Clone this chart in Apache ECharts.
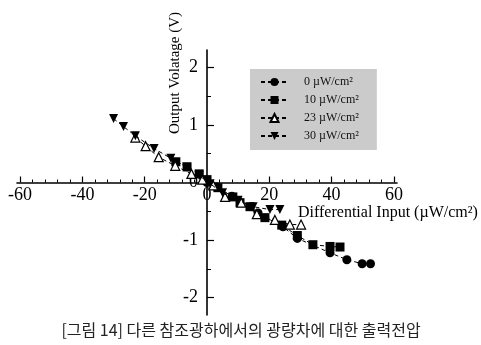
<!DOCTYPE html>
<html>
<head>
<meta charset="utf-8">
<script src="https://cdn.jsdelivr.net/npm/echarts@6/dist/echarts.min.js"></script>
<style>
html,body{margin:0;padding:0;background:#fff;}
#c{width:481px;height:345px;}
</style>
</head>
<body>
<div id="c"></div>
<script>
// ---- data ----
var seriesNames = ['0 µW/cm²', '10 µW/cm²', '23 µW/cm²', '30 µW/cm²'];
var s0x = [0, 3.2, 8, 16.4, 24.4, 29, 39.5, 44.9, 49.8, 52.5];
var s0y = [0, -0.08, -0.24, -0.53, -0.77, -0.97, -1.22, -1.34, -1.41, -1.41];
var s10x = [-10, -6.4, -2.5, 0, 3.5, 8.3, 10.6, 13.8, 18.6, 24, 29, 34, 39.5, 42.7];
var s10y = [0.36, 0.27, 0.15, 0.05, -0.09, -0.25, -0.35, -0.42, -0.61, -0.74, -0.92, -1.08, -1.11, -1.12];
var s23x = [-23, -19.7, -15.5, -10.2, -5, -1.5, 2, 5.8, 11, 16, 21.8, 26.6, 30.2];
var s23y = [0.78, 0.63, 0.44, 0.29, 0.15, 0.05, -0.05, -0.25, -0.35, -0.55, -0.65, -0.73, -0.73];
var s30x = [-30, -26.8, -23, -17, -11.6, -6.5, -2.5, 1, 5, 10, 14.8, 20.2, 23.4];
var s30y = [1.11, 0.97, 0.81, 0.59, 0.42, 0.27, 0.12, -0.02, -0.18, -0.31, -0.42, -0.47, -0.47];
var xMajorTicks = [-60, -40, -20, 0, 20, 40, 60];
var xMinorTicks = [-56, -52, -48, -44, -36, -32, -28, -24, -16, -12, -8, -4, 4, 8, 12, 16, 24, 28, 32, 36, 44, 48, 52, 56];
var yMajorTicks = [-2, -1, 0, 1, 2];
var yMinorTicks = [-1.5, -0.5, 0.5, 1.5];
var xRange = [-61, 61];
var yRange = [-2.3, 2.3];
var xTitle = 'Differential Input (µW/cm²)';
var yTitle = 'Output Volatage (V)';
var caption = '[그림 14] 다른 참조광하에서의 광량차에 대한 출력전압';

function zip(xs, ys) { return xs.map(function (x, i) { return [x, ys[i]]; }); }

var serif = 'Liberation Serif';
var chart = echarts.init(document.getElementById('c'), null, {renderer: 'canvas'});

// grid box
var G = {left: 17, top: 50, width: 380, height: 265};
// place axes through the origin (computed from ranges)
var xAxisOffset = -G.height * (0 - yRange[0]) / (yRange[1] - yRange[0]);
var yAxisOffset = -G.width * (0 - xRange[0]) / (xRange[1] - xRange[0]);

var symbols = ['circle', 'rect', 'triangle', 'path://M0,0 L10,0 L5,10 Z'];
var fills = ['#000', '#000', '#fff', '#000'];
var datas = [zip(s0x, s0y), zip(s10x, s10y), zip(s23x, s23y), zip(s30x, s30y)];

var series = seriesNames.map(function (n, i) {
  return {
    name: n,
    type: 'line',
    data: datas[i],
    symbol: symbols[i],
    symbolSize: 9,
    showAllSymbol: true,
    lineStyle: {color: '#000', width: 1, type: [4, 3]},
    itemStyle: {color: fills[i], borderColor: '#000', borderWidth: i === 2 ? 1.2 : 0},
    emphasis: {disabled: true},
    animation: false,
    z: 3 + i
  };
});

var axisBase = {type: 'value', splitLine: {show: false}};

chart.setOption({
  animation: false,
  grid: {left: G.left, top: G.top, width: G.width, height: G.height, containLabel: false, outerBoundsMode: 'none'},
  legend: {
    orient: 'vertical',
    left: 250, top: 69,
    padding: [7, 18, 8, 10],
    itemWidth: 27, itemHeight: 10, itemGap: 6,
    backgroundColor: '#cbcbcb',
    data: seriesNames,
    textStyle: {fontFamily: serif, fontSize: 12, color: '#111', padding: [0, 0, 0, 11]},
    selectedMode: false
  },
  xAxis: [
    Object.assign({}, axisBase, {
      min: xRange[0], max: xRange[1], position: 'bottom', offset: xAxisOffset,
      axisLine: {show: true, onZero: false, lineStyle: {color: '#000', width: 1.6}},
      axisTick: {show: true, inside: true, length: 6, customValues: xMajorTicks, lineStyle: {color: '#000', width: 1.2}},
      axisLabel: {customValues: xMajorTicks, color: '#000', fontSize: 18, fontFamily: serif, margin: 4}
    }),
    Object.assign({}, axisBase, {
      min: xRange[0], max: xRange[1], position: 'bottom', offset: xAxisOffset,
      axisLine: {show: false, onZero: false},
      axisTick: {show: true, inside: true, length: 3, customValues: xMinorTicks, lineStyle: {color: '#000', width: 1}},
      axisLabel: {show: false}
    })
  ],
  yAxis: [
    Object.assign({}, axisBase, {
      min: yRange[0], max: yRange[1], position: 'left', offset: yAxisOffset,
      axisLine: {show: true, onZero: false, lineStyle: {color: '#000', width: 1.6}},
      axisTick: {show: true, inside: true, length: 7, customValues: yMajorTicks, lineStyle: {color: '#000', width: 1.2}},
      axisLabel: {customValues: yMajorTicks, color: '#000', fontSize: 18, fontFamily: serif, margin: 9}
    }),
    Object.assign({}, axisBase, {
      min: yRange[0], max: yRange[1], position: 'left', offset: yAxisOffset,
      axisLine: {show: false, onZero: false},
      axisTick: {show: true, inside: true, length: 4, customValues: yMinorTicks, lineStyle: {color: '#000', width: 1}},
      axisLabel: {show: false}
    })
  ],
  series: series,
  graphic: [
    {type: 'text', x: 175, y: 73, rotation: Math.PI / 2,
     style: {text: yTitle, fontFamily: serif, fontSize: 15, fill: '#000', align: 'center', verticalAlign: 'middle'}},
    {type: 'text', x: 298, y: 213,
     style: {text: xTitle, fontFamily: serif, fontSize: 16, fill: '#000', align: 'left', verticalAlign: 'middle'}},
    {type: 'text', x: 241, y: 330,
     style: {text: caption, fontFamily: 'Noto Sans CJK KR', fontSize: 16, fill: '#222', align: 'center', verticalAlign: 'middle'}}
  ]
});
</script>
</body>
</html>
